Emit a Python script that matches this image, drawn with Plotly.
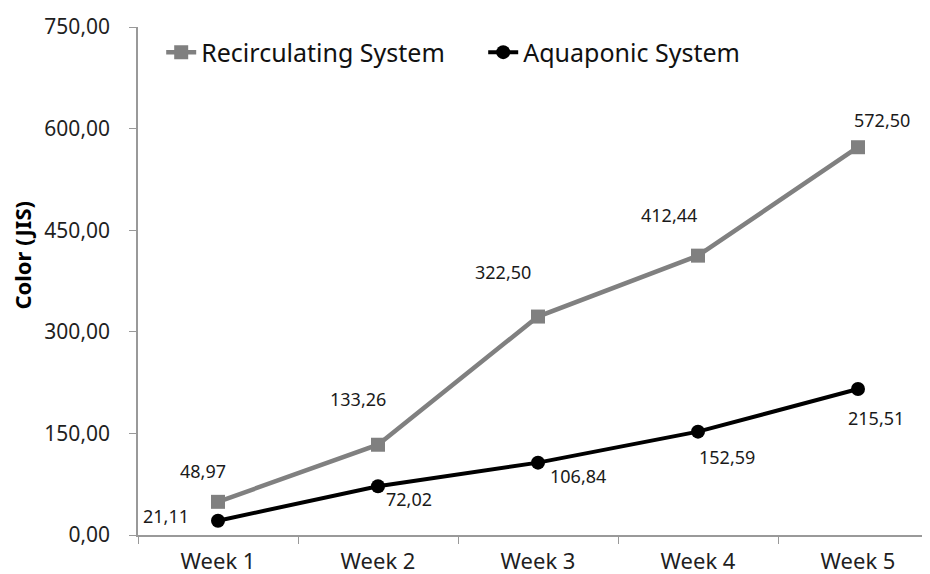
import plotly.graph_objects as go

weeks = ["Week 1", "Week 2", "Week 3", "Week 4", "Week 5"]
recirc = [48.97, 133.26, 322.50, 412.44, 572.50]
aquap = [21.11, 72.02, 106.84, 152.59, 215.51]
recirc_labels = ["48,97", "133,26", "322,50", "412,44", "572,50"]
aquap_labels = ["21,11", "72,02", "106,84", "152,59", "215,51"]

# label offsets (px) relative to the marker
recirc_off = [(-15, 31), (-20, 46), (-35, 45), (-29, 41), (24, 27)]
aquap_off = [(-52, 5), (31, -13), (40, -13), (29, -25), (18, -29)]

fig = go.Figure()
fig.add_trace(go.Scatter(
    x=weeks, y=recirc, name="Recirculating System", mode="lines+markers",
    line=dict(color="#808080", width=4.5),
    marker=dict(symbol="square", size=14, color="#808080"),
))
fig.add_trace(go.Scatter(
    x=weeks, y=aquap, name="Aquaponic System", mode="lines+markers",
    line=dict(color="#000000", width=4),
    marker=dict(symbol="circle", size=14, color="#000000"),
))

ann = []
for w, v, t, (dx, dy) in zip(weeks, recirc, recirc_labels, recirc_off):
    ann.append(dict(x=w, y=v, text=t, showarrow=False, xshift=dx, yshift=dy,
                    font=dict(size=18, color="#1a1a1a")))
for w, v, t, (dx, dy) in zip(weeks, aquap, aquap_labels, aquap_off):
    ann.append(dict(x=w, y=v, text=t, showarrow=False, xshift=dx, yshift=dy,
                    font=dict(size=18, color="#1a1a1a")))
# y-axis title
ann.append(dict(xref="paper", yref="paper", x=-0.145, y=0.55,
                text="<b>Color (JIS)</b>", textangle=-90, showarrow=False,
                xanchor="center", yanchor="middle",
                font=dict(size=22, color="#000")))

fig.update_layout(
    width=930, height=574,
    margin=dict(l=130, r=0, t=19, b=47),
    paper_bgcolor="white", plot_bgcolor="white",
    font=dict(family="Noto Sans, Open Sans, sans-serif", color="#1f1f1f"),
    separators=",.",
    annotations=ann,
    legend=dict(orientation="h", x=0.029, y=0.95, xanchor="left", yanchor="middle",
                font=dict(size=25, color="#111"), entrywidth=277,
                bgcolor="rgba(0,0,0,0)"),
    xaxis=dict(type="category", tickson="boundaries", showgrid=False,
               showline=True, linecolor="#999", linewidth=1.5,
               ticks="outside", ticklen=7, tickcolor="#999",
               tickfont=dict(size=22, color="#1f1f1f"), range=[-0.5, 4.5],
               ticklabelstandoff=6),
    yaxis=dict(range=[0, 750], tickvals=[0, 150, 300, 450, 600, 750],
               tickformat=".2f", showgrid=False, zeroline=False,
               showline=True, linecolor="#999", linewidth=1.5,
               ticks="outside", ticklen=7, tickcolor="#999",
               tickfont=dict(size=21, color="#1f1f1f"),
               ticklabelstandoff=15),
)

fig.write_html("out.html")
